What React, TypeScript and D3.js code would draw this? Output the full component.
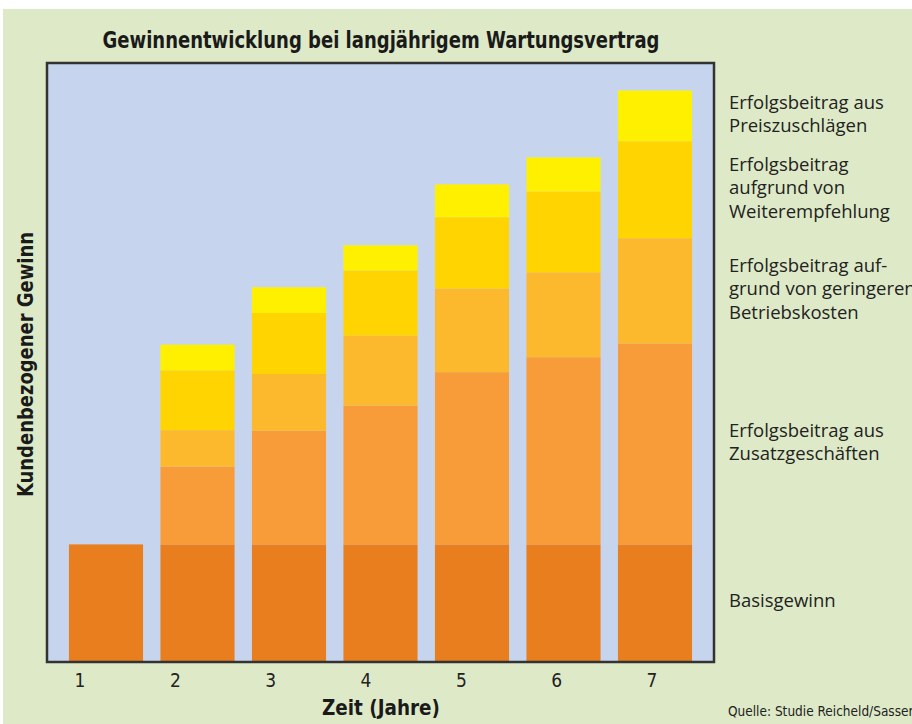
import { useEffect, useRef } from "react";
import * as d3 from "d3";

const years = ["1", "2", "3", "4", "5", "6", "7"];

// segment heights per year, bottom to top
const basisgewinn = [19.5, 19.5, 19.5, 19.5, 19.5, 19.5, 19.5];
const zusatzgeschaefte = [0, 13, 19, 23.2, 28.8, 31.3, 33.6];
const betriebskosten = [0, 6.1, 9.5, 11.7, 14, 14.2, 17.6];
const weiterempfehlung = [0, 10, 10.2, 10.9, 11.9, 13.5, 16.2];
const preiszuschlaege = [0, 4.3, 4.3, 4.2, 5.5, 5.7, 8.5];

const seriesKeys = ["basis", "zusatz", "betrieb", "weiter", "preis"];
const seriesColors = ["#e87e1e", "#f79c38", "#fdb92e", "#ffd400", "#fff000"];
const seriesLabels = [
  ["Basisgewinn"],
  ["Erfolgsbeitrag aus", "Zusatzgeschäften"],
  ["Erfolgsbeitrag auf-", "grund von geringeren", "Betriebskosten"],
  ["Erfolgsbeitrag", "aufgrund von", "Weiterempfehlung"],
  ["Erfolgsbeitrag aus", "Preiszuschlägen"],
];

const title = "Gewinnentwicklung bei langjährigem Wartungsvertrag";
const xTitle = "Zeit (Jahre)";
const yTitle = "Kundenbezogener Gewinn";
const source = "Quelle: Studie Reicheld/Sasser";

const narrow = "'Liberation Sans Narrow', 'DejaVu Sans Condensed', sans-serif";
const labelFont = "'Open Sans', 'Noto Sans', sans-serif";

export default function App() {
  const svgRef = useRef<SVGSVGElement>(null);

  useEffect(() => {
    document.body.style.margin = "0";
    const width = 912;
    const height = 724;
    const plot = { left: 47, right: 714, top: 63, bottom: 662 };

    const svg = d3.select(svgRef.current)
      .attr("width", width)
      .attr("height", height)
      .html(null);

    // page background
    svg.append("rect").attr("width", width).attr("height", height).attr("fill", "#ffffff");
    svg.append("rect")
      .attr("x", 3).attr("y", 9)
      .attr("width", width - 3).attr("height", height - 9)
      .attr("fill", "#deeac7");

    const rows = years.map((year, i) => ({
      year,
      basis: basisgewinn[i],
      zusatz: zusatzgeschaefte[i],
      betrieb: betriebskosten[i],
      weiter: weiterempfehlung[i],
      preis: preiszuschlaege[i],
    }));

    const stacked = d3.stack<any>().keys(seriesKeys)(rows);

    const xScale = d3.scaleBand<string>()
      .domain(years)
      .range([plot.left, plot.right])
      .paddingInner(0.19)
      .paddingOuter(0.24);

    const yScale = d3.scaleLinear()
      .domain([0, 100])
      .range([plot.bottom - 1, plot.top]);

    // tick labels sit on their own spacing in the original
    const tickScale = d3.scalePoint<string>()
      .domain(years)
      .range([80, 652]);

    svg.append("rect")
      .attr("x", plot.left).attr("y", plot.top)
      .attr("width", plot.right - plot.left)
      .attr("height", plot.bottom - plot.top)
      .attr("fill", "#c6d5ed");

    stacked.forEach((layer, k) => {
      svg.append("g")
        .attr("fill", seriesColors[k])
        .selectAll("rect")
        .data(layer.filter(d => d[1] - d[0] > 0))
        .join("rect")
        .attr("x", d => xScale(d.data.year) as number)
        .attr("width", xScale.bandwidth())
        .attr("y", d => yScale(d[1]))
        .attr("height", d => yScale(d[0]) - yScale(d[1]));
    });

    svg.append("rect")
      .attr("x", plot.left).attr("y", plot.top)
      .attr("width", plot.right - plot.left)
      .attr("height", plot.bottom - plot.top)
      .attr("fill", "none")
      .attr("stroke", "#333333")
      .attr("stroke-width", 2.5);

    // x tick labels
    svg.append("g")
      .selectAll("text")
      .data(years)
      .join("text")
      .attr("x", d => tickScale(d) as number)
      .attr("y", 687)
      .attr("text-anchor", "middle")
      .style("font-family", narrow)
      .style("font-size", "19px")
      .style("fill", "#222")
      .text(d => d);

    svg.append("text")
      .attr("x", 381).attr("y", 48)
      .attr("text-anchor", "middle")
      .attr("textLength", 557)
      .attr("lengthAdjust", "spacingAndGlyphs")
      .style("font-family", narrow)
      .style("font-weight", "bold")
      .style("font-size", "23px")
      .style("fill", "#1a1a1a")
      .text(title);

    svg.append("text")
      .attr("x", 381).attr("y", 715)
      .attr("text-anchor", "middle")
      .attr("textLength", 118)
      .attr("lengthAdjust", "spacingAndGlyphs")
      .style("font-family", narrow)
      .style("font-weight", "bold")
      .style("font-size", "22px")
      .style("fill", "#1a1a1a")
      .text(xTitle);

    svg.append("text")
      .attr("transform", `translate(33,${(232 + 497) / 2}) rotate(-90)`)
      .attr("text-anchor", "middle")
      .attr("textLength", 265)
      .attr("lengthAdjust", "spacingAndGlyphs")
      .style("font-family", narrow)
      .style("font-weight", "bold")
      .style("font-size", "22px")
      .style("fill", "#1a1a1a")
      .text(yTitle);

    // labels centred on the segments of the last bar
    const lineHeight = 23.5;
    const last = years.length - 1;
    stacked.forEach((layer, k) => {
      const mid = (yScale(layer[last][0]) + yScale(layer[last][1])) / 2;
      const lines = seriesLabels[k];
      svg.append("g")
        .selectAll("text")
        .data(lines)
        .join("text")
        .attr("x", 729)
        .attr("y", (_, i) => mid + (i - (lines.length - 1) / 2) * lineHeight + 4.5)
        .style("font-family", labelFont)
        .style("font-size", "18.5px")
        .style("fill", "#222")
        .text(d => d);
    });

    svg.append("text")
      .attr("x", 728).attr("y", 716)
      .style("font-family", narrow)
      .style("font-size", "13.5px")
      .style("fill", "#222")
      .text(source);
  }, []);

  return <svg ref={svgRef} style={{ display: "block" }}></svg>;
}
